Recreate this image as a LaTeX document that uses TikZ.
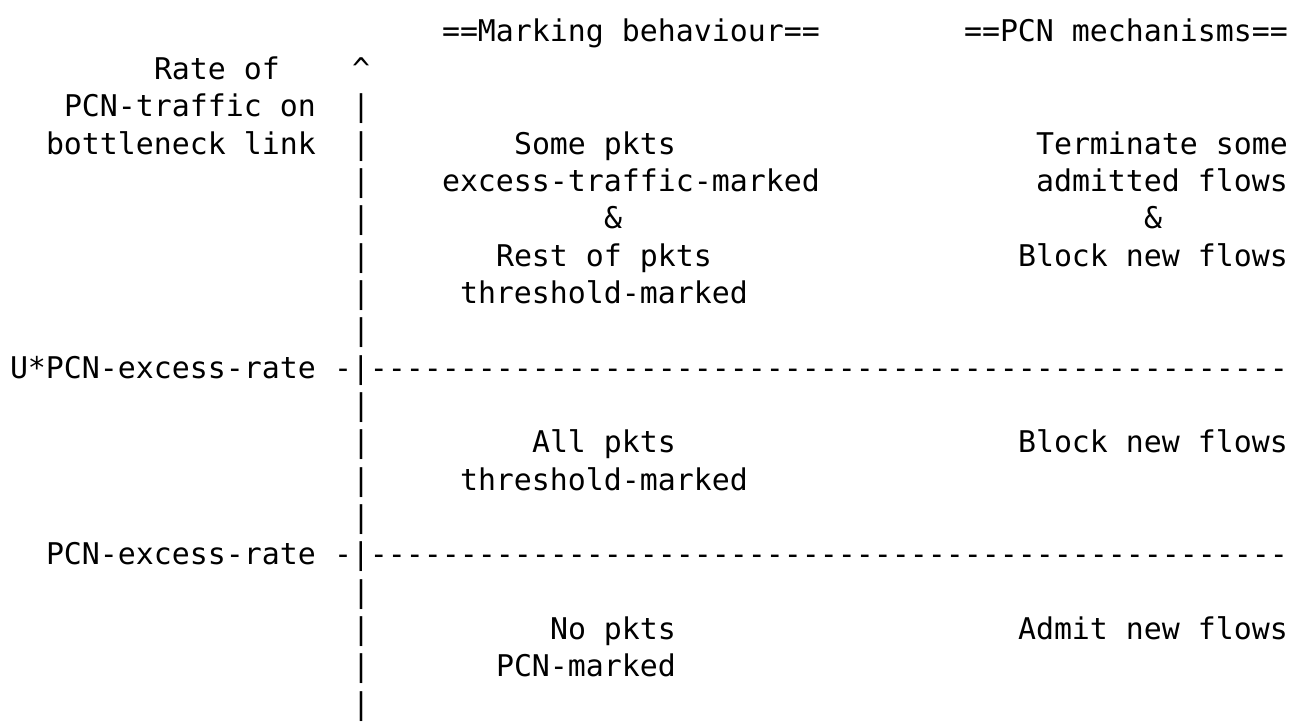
\documentclass[tikz,border=0pt]{standalone}
\usepackage{fontspec}
\setmonofont{DejaVu Sans Mono}
\newcommand\asciicell[4]{\node[txt] (#1) at ({10+18*#2},{42+37.3333*#3}) {#4};}
\begin{document}
\begin{tikzpicture}[x=0.75pt,y=-0.75pt,
  txt/.style={anchor=base west,inner sep=0pt,outer sep=0pt,text=black,
    font=\ttfamily\fontsize{22.42pt}{26pt}\selectfont}]
\useasboundingbox[fill=white] (0,0) rectangle (1307,724);
% header
\asciicell{hmark}{24}{0}{==Marking behaviour==}
\asciicell{hpcn}{53}{0}{==PCN mechanisms==}
% axis label
\asciicell{lrate}{8}{1}{Rate of}
\asciicell{arrowhead}{19}{1}{\textasciicircum}
\asciicell{ltraffic}{3}{2}{PCN-traffic on}
\asciicell{llink}{2}{3}{bottleneck link}
\foreach \r in {2,3,4,5,6,7,8,10,11,12,13,15,16,17,18}{
  \asciicell{bar\r}{19}{\r}{|}
}
% upper region
\asciicell{m1a}{28}{3}{Some pkts}
\asciicell{m1b}{24}{4}{excess-traffic-marked}
\asciicell{m1c}{33}{5}{\&}
\asciicell{m1d}{27}{6}{Rest of pkts}
\asciicell{m1e}{25}{7}{threshold-marked}
\asciicell{p1a}{57}{3}{Terminate some}
\asciicell{p1b}{57}{4}{admitted flows}
\asciicell{p1c}{63}{5}{\&}
\asciicell{p1d}{56}{6}{Block new flows}
% U*PCN-excess-rate threshold
\asciicell{lu}{0}{9}{U*PCN-excess-rate}
\asciicell{du}{18}{9}{-|---------------------------------------------------}
% middle region
\asciicell{m2a}{29}{11}{All pkts}
\asciicell{m2b}{25}{12}{threshold-marked}
\asciicell{p2a}{56}{11}{Block new flows}
% PCN-excess-rate threshold
\asciicell{le}{2}{14}{PCN-excess-rate}
\asciicell{de}{18}{14}{-|---------------------------------------------------}
% lower region
\asciicell{m3a}{30}{16}{No pkts}
\asciicell{m3b}{27}{17}{PCN-marked}
\asciicell{p3a}{56}{16}{Admit new flows}
\end{tikzpicture}
\end{document}
